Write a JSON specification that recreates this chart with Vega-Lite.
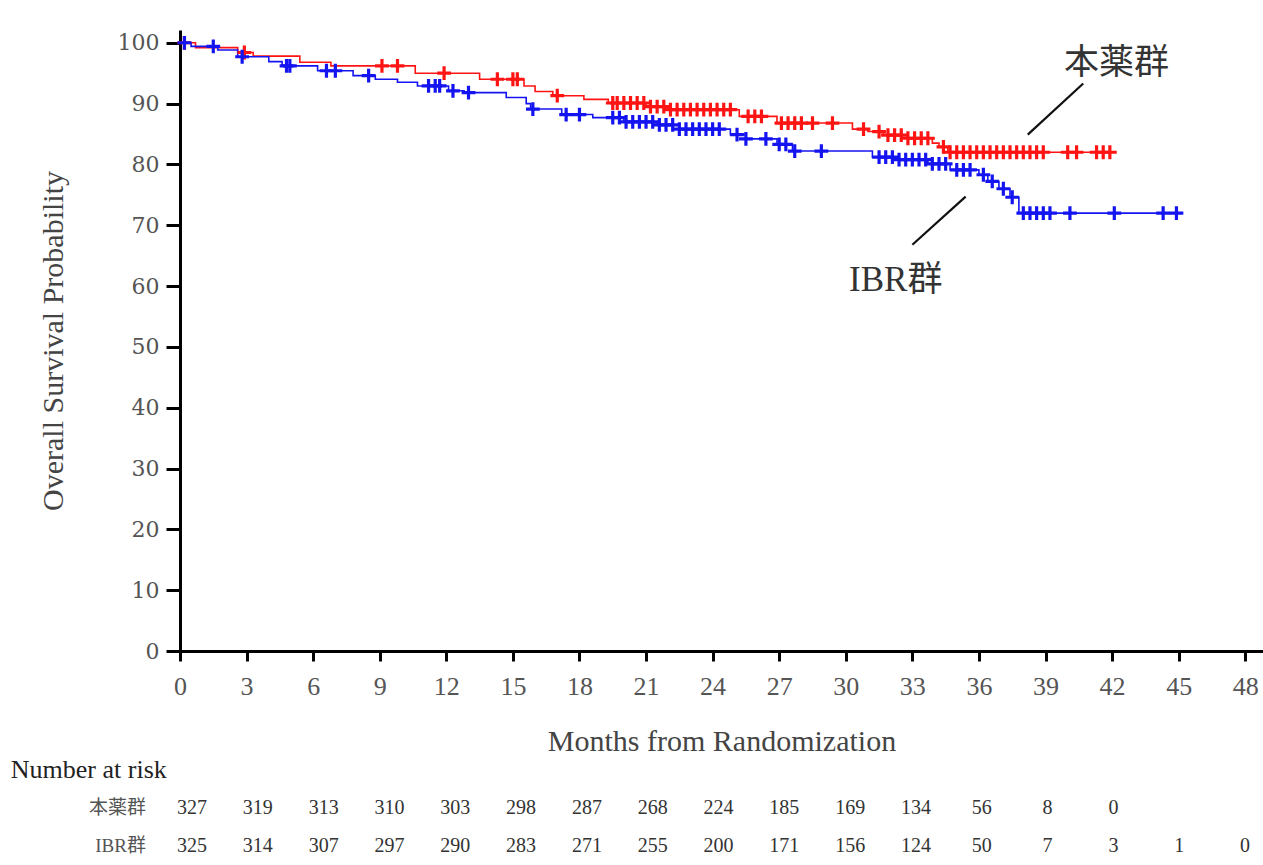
{
  "$schema": "https://vega.github.io/schema/vega-lite/v6.json",
  "width": 1083,
  "height": 621,
  "autosize": {"type": "none"},
  "padding": {"left": 180, "top": 30, "right": 0, "bottom": 214},
  "background": "white",
  "config": {
    "view": {"stroke": null},
    "font": "Liberation Serif",
    "axis": {"labelFont": "Liberation Serif", "titleFont": "Liberation Serif", "grid": false}
  },
  "datasets": {
    "km": [
      {"g": "本薬群", "t": 0, "s": 100}, {"g": "本薬群", "t": 0.7, "s": 99.2}, {"g": "本薬群", "t": 2.6, "s": 98.4},
      {"g": "本薬群", "t": 3.3, "s": 97.8}, {"g": "本薬群", "t": 5.4, "s": 96.8}, {"g": "本薬群", "t": 6.8, "s": 96.2},
      {"g": "本薬群", "t": 10.6, "s": 95.0}, {"g": "本薬群", "t": 13.5, "s": 94.0}, {"g": "本薬群", "t": 15.5, "s": 92.9},
      {"g": "本薬群", "t": 16.0, "s": 92.0}, {"g": "本薬群", "t": 16.8, "s": 91.3}, {"g": "本薬群", "t": 18.2, "s": 90.7},
      {"g": "本薬群", "t": 19.3, "s": 90.1}, {"g": "本薬群", "t": 21.0, "s": 89.5}, {"g": "本薬群", "t": 22.0, "s": 89.0},
      {"g": "本薬群", "t": 25.2, "s": 87.9}, {"g": "本薬群", "t": 26.9, "s": 86.8}, {"g": "本薬群", "t": 30.3, "s": 85.8},
      {"g": "本薬群", "t": 31.0, "s": 85.4}, {"g": "本薬群", "t": 31.7, "s": 84.8}, {"g": "本薬群", "t": 32.8, "s": 84.3},
      {"g": "本薬群", "t": 33.9, "s": 83.5}, {"g": "本薬群", "t": 34.2, "s": 82.9}, {"g": "本薬群", "t": 34.6, "s": 82.0},
      {"g": "本薬群", "t": 42.0, "s": 82.0},
      {"g": "IBR群", "t": 0, "s": 100}, {"g": "IBR群", "t": 0.5, "s": 99.4}, {"g": "IBR群", "t": 1.7, "s": 98.8},
      {"g": "IBR群", "t": 2.6, "s": 97.7}, {"g": "IBR群", "t": 4.0, "s": 96.9}, {"g": "IBR群", "t": 4.6, "s": 96.2},
      {"g": "IBR群", "t": 6.2, "s": 95.4}, {"g": "IBR群", "t": 7.8, "s": 94.6}, {"g": "IBR群", "t": 8.8, "s": 94.0},
      {"g": "IBR群", "t": 9.8, "s": 93.5}, {"g": "IBR群", "t": 10.7, "s": 92.9}, {"g": "IBR群", "t": 12.1, "s": 92.1},
      {"g": "IBR群", "t": 12.8, "s": 91.8}, {"g": "IBR群", "t": 14.7, "s": 91.0}, {"g": "IBR群", "t": 15.6, "s": 90.0},
      {"g": "IBR群", "t": 15.8, "s": 89.1}, {"g": "IBR群", "t": 17.2, "s": 88.2}, {"g": "IBR群", "t": 18.6, "s": 87.7},
      {"g": "IBR群", "t": 20.0, "s": 87.0}, {"g": "IBR群", "t": 21.5, "s": 86.5}, {"g": "IBR群", "t": 22.5, "s": 85.8},
      {"g": "IBR群", "t": 24.8, "s": 84.9}, {"g": "IBR群", "t": 25.5, "s": 84.2}, {"g": "IBR群", "t": 26.9, "s": 83.3},
      {"g": "IBR群", "t": 27.6, "s": 82.2}, {"g": "IBR群", "t": 31.2, "s": 81.2}, {"g": "IBR群", "t": 32.2, "s": 80.8},
      {"g": "IBR群", "t": 33.7, "s": 80.1}, {"g": "IBR群", "t": 34.7, "s": 79.1}, {"g": "IBR群", "t": 36.0, "s": 78.3},
      {"g": "IBR群", "t": 36.4, "s": 77.2}, {"g": "IBR群", "t": 36.9, "s": 76.0}, {"g": "IBR群", "t": 37.4, "s": 74.6},
      {"g": "IBR群", "t": 37.8, "s": 72.0}, {"g": "IBR群", "t": 45.1, "s": 72.0}
    ],
    "cens": [
      {"g": "本薬群", "t": 0.2, "s": 100}, {"g": "本薬群", "t": 2.9, "s": 98.4}, {"g": "本薬群", "t": 9.1, "s": 96.2},
      {"g": "本薬群", "t": 9.8, "s": 96.2}, {"g": "本薬群", "t": 11.9, "s": 95.0}, {"g": "本薬群", "t": 14.3, "s": 94.0},
      {"g": "本薬群", "t": 15.0, "s": 94.0}, {"g": "本薬群", "t": 15.2, "s": 94.0}, {"g": "本薬群", "t": 17.0, "s": 91.3},
      {"g": "本薬群", "t": 19.5, "s": 90.1}, {"g": "本薬群", "t": 19.7, "s": 90.1}, {"g": "本薬群", "t": 20.0, "s": 90.1},
      {"g": "本薬群", "t": 20.3, "s": 90.1}, {"g": "本薬群", "t": 20.6, "s": 90.1}, {"g": "本薬群", "t": 20.9, "s": 90.1},
      {"g": "本薬群", "t": 21.2, "s": 89.5}, {"g": "本薬群", "t": 21.5, "s": 89.5}, {"g": "本薬群", "t": 21.8, "s": 89.5},
      {"g": "本薬群", "t": 22.1, "s": 89.0}, {"g": "本薬群", "t": 22.4, "s": 89.0}, {"g": "本薬群", "t": 22.7, "s": 89.0},
      {"g": "本薬群", "t": 23.0, "s": 89.0}, {"g": "本薬群", "t": 23.3, "s": 89.0}, {"g": "本薬群", "t": 23.6, "s": 89.0},
      {"g": "本薬群", "t": 23.9, "s": 89.0}, {"g": "本薬群", "t": 24.2, "s": 89.0}, {"g": "本薬群", "t": 24.5, "s": 89.0},
      {"g": "本薬群", "t": 24.8, "s": 89.0}, {"g": "本薬群", "t": 25.6, "s": 87.9}, {"g": "本薬群", "t": 25.9, "s": 87.9},
      {"g": "本薬群", "t": 26.2, "s": 87.9}, {"g": "本薬群", "t": 27.1, "s": 86.8}, {"g": "本薬群", "t": 27.4, "s": 86.8},
      {"g": "本薬群", "t": 27.7, "s": 86.8}, {"g": "本薬群", "t": 28.0, "s": 86.8}, {"g": "本薬群", "t": 28.5, "s": 86.8},
      {"g": "本薬群", "t": 29.4, "s": 86.8}, {"g": "本薬群", "t": 30.8, "s": 85.8}, {"g": "本薬群", "t": 31.5, "s": 85.4},
      {"g": "本薬群", "t": 31.9, "s": 84.8}, {"g": "本薬群", "t": 32.2, "s": 84.8}, {"g": "本薬群", "t": 32.5, "s": 84.8},
      {"g": "本薬群", "t": 32.8, "s": 84.3}, {"g": "本薬群", "t": 33.1, "s": 84.3}, {"g": "本薬群", "t": 33.4, "s": 84.3},
      {"g": "本薬群", "t": 33.7, "s": 84.3}, {"g": "本薬群", "t": 34.4, "s": 82.9}, {"g": "本薬群", "t": 34.7, "s": 82.0},
      {"g": "本薬群", "t": 35.0, "s": 82.0}, {"g": "本薬群", "t": 35.3, "s": 82.0}, {"g": "本薬群", "t": 35.6, "s": 82.0},
      {"g": "本薬群", "t": 35.9, "s": 82.0}, {"g": "本薬群", "t": 36.2, "s": 82.0}, {"g": "本薬群", "t": 36.5, "s": 82.0},
      {"g": "本薬群", "t": 36.8, "s": 82.0}, {"g": "本薬群", "t": 37.1, "s": 82.0}, {"g": "本薬群", "t": 37.4, "s": 82.0},
      {"g": "本薬群", "t": 37.7, "s": 82.0}, {"g": "本薬群", "t": 38.0, "s": 82.0}, {"g": "本薬群", "t": 38.3, "s": 82.0},
      {"g": "本薬群", "t": 38.6, "s": 82.0}, {"g": "本薬群", "t": 38.9, "s": 82.0}, {"g": "本薬群", "t": 40.0, "s": 82.0},
      {"g": "本薬群", "t": 40.4, "s": 82.0}, {"g": "本薬群", "t": 41.3, "s": 82.0}, {"g": "本薬群", "t": 41.6, "s": 82.0},
      {"g": "本薬群", "t": 41.9, "s": 82.0},
      {"g": "IBR群", "t": 0.2, "s": 100}, {"g": "IBR群", "t": 1.5, "s": 99.4}, {"g": "IBR群", "t": 2.8, "s": 97.7},
      {"g": "IBR群", "t": 4.8, "s": 96.2}, {"g": "IBR群", "t": 4.95, "s": 96.2}, {"g": "IBR群", "t": 6.6, "s": 95.4},
      {"g": "IBR群", "t": 7.0, "s": 95.4}, {"g": "IBR群", "t": 8.5, "s": 94.6}, {"g": "IBR群", "t": 11.2, "s": 92.9},
      {"g": "IBR群", "t": 11.5, "s": 92.9}, {"g": "IBR群", "t": 11.7, "s": 92.9}, {"g": "IBR群", "t": 12.3, "s": 92.1},
      {"g": "IBR群", "t": 13.0, "s": 91.8}, {"g": "IBR群", "t": 15.9, "s": 89.1}, {"g": "IBR群", "t": 17.4, "s": 88.2},
      {"g": "IBR群", "t": 18.0, "s": 88.2}, {"g": "IBR群", "t": 19.5, "s": 87.7}, {"g": "IBR群", "t": 19.8, "s": 87.7},
      {"g": "IBR群", "t": 20.1, "s": 87.0}, {"g": "IBR群", "t": 20.4, "s": 87.0}, {"g": "IBR群", "t": 20.7, "s": 87.0},
      {"g": "IBR群", "t": 21.0, "s": 87.0}, {"g": "IBR群", "t": 21.3, "s": 87.0}, {"g": "IBR群", "t": 21.6, "s": 86.5},
      {"g": "IBR群", "t": 21.9, "s": 86.5}, {"g": "IBR群", "t": 22.2, "s": 86.5}, {"g": "IBR群", "t": 22.5, "s": 85.8},
      {"g": "IBR群", "t": 22.8, "s": 85.8}, {"g": "IBR群", "t": 23.1, "s": 85.8}, {"g": "IBR群", "t": 23.4, "s": 85.8},
      {"g": "IBR群", "t": 23.7, "s": 85.8}, {"g": "IBR群", "t": 24.0, "s": 85.8}, {"g": "IBR群", "t": 24.3, "s": 85.8},
      {"g": "IBR群", "t": 25.1, "s": 84.9}, {"g": "IBR群", "t": 25.5, "s": 84.2}, {"g": "IBR群", "t": 26.4, "s": 84.2},
      {"g": "IBR群", "t": 27.0, "s": 83.3}, {"g": "IBR群", "t": 27.3, "s": 83.3}, {"g": "IBR群", "t": 27.7, "s": 82.2},
      {"g": "IBR群", "t": 28.9, "s": 82.2}, {"g": "IBR群", "t": 31.5, "s": 81.2}, {"g": "IBR群", "t": 31.8, "s": 81.2},
      {"g": "IBR群", "t": 32.1, "s": 81.2}, {"g": "IBR群", "t": 32.4, "s": 80.8}, {"g": "IBR群", "t": 32.7, "s": 80.8},
      {"g": "IBR群", "t": 33.0, "s": 80.8}, {"g": "IBR群", "t": 33.3, "s": 80.8}, {"g": "IBR群", "t": 33.6, "s": 80.8},
      {"g": "IBR群", "t": 33.9, "s": 80.1}, {"g": "IBR群", "t": 34.2, "s": 80.1}, {"g": "IBR群", "t": 34.5, "s": 80.1},
      {"g": "IBR群", "t": 35.0, "s": 79.1}, {"g": "IBR群", "t": 35.3, "s": 79.1}, {"g": "IBR群", "t": 35.6, "s": 79.1},
      {"g": "IBR群", "t": 36.2, "s": 78.3}, {"g": "IBR群", "t": 36.6, "s": 77.2}, {"g": "IBR群", "t": 37.1, "s": 76.0},
      {"g": "IBR群", "t": 37.5, "s": 74.6}, {"g": "IBR群", "t": 38.0, "s": 72.0}, {"g": "IBR群", "t": 38.3, "s": 72.0},
      {"g": "IBR群", "t": 38.6, "s": 72.0}, {"g": "IBR群", "t": 38.9, "s": 72.0}, {"g": "IBR群", "t": 39.2, "s": 72.0},
      {"g": "IBR群", "t": 40.1, "s": 72.0}, {"g": "IBR群", "t": 42.1, "s": 72.0}, {"g": "IBR群", "t": 44.3, "s": 72.0},
      {"g": "IBR群", "t": 44.9, "s": 72.0}
    ],
    "notes": [
      {"label": "本薬群", "t": 42.2, "s": 96.7, "t1": 40.7, "s1": 93.3, "t2": 38.2, "s2": 84.9},
      {"label": "IBR群", "t": 32.25, "s": 61.0, "t1": 35.4, "s1": 74.7, "t2": 33.0, "s2": 66.8}
    ],
    "risk": [
      {"row": "本薬群", "t": 0, "n": "327"}, {"row": "本薬群", "t": 3, "n": "319"}, {"row": "本薬群", "t": 6, "n": "313"},
      {"row": "本薬群", "t": 9, "n": "310"}, {"row": "本薬群", "t": 12, "n": "303"}, {"row": "本薬群", "t": 15, "n": "298"},
      {"row": "本薬群", "t": 18, "n": "287"}, {"row": "本薬群", "t": 21, "n": "268"}, {"row": "本薬群", "t": 24, "n": "224"},
      {"row": "本薬群", "t": 27, "n": "185"}, {"row": "本薬群", "t": 30, "n": "169"}, {"row": "本薬群", "t": 33, "n": "134"},
      {"row": "本薬群", "t": 36, "n": "56"}, {"row": "本薬群", "t": 39, "n": "8"}, {"row": "本薬群", "t": 42, "n": "0"},
      {"row": "IBR群", "t": 0, "n": "325"}, {"row": "IBR群", "t": 3, "n": "314"}, {"row": "IBR群", "t": 6, "n": "307"},
      {"row": "IBR群", "t": 9, "n": "297"}, {"row": "IBR群", "t": 12, "n": "290"}, {"row": "IBR群", "t": 15, "n": "283"},
      {"row": "IBR群", "t": 18, "n": "271"}, {"row": "IBR群", "t": 21, "n": "255"}, {"row": "IBR群", "t": 24, "n": "200"},
      {"row": "IBR群", "t": 27, "n": "171"}, {"row": "IBR群", "t": 30, "n": "156"}, {"row": "IBR群", "t": 33, "n": "124"},
      {"row": "IBR群", "t": 36, "n": "50"}, {"row": "IBR群", "t": 39, "n": "7"}, {"row": "IBR群", "t": 42, "n": "3"},
      {"row": "IBR群", "t": 45, "n": "1"}, {"row": "IBR群", "t": 48, "n": "0"}
    ],
    "rowlabels": [
      {"row": "本薬群", "t": -2.1, "label": "本薬群"},
      {"row": "IBR群", "t": -2.1, "label": "IBR群"}
    ],
    "header": [
      {"row": "Number at risk", "t": -8.26, "label": "Number at risk"}
    ]
  },
  "layer": [
    {
      "layer": [
        {
          "data": {"name": "km"},
          "mark": {"type": "line", "interpolate": "step-after", "strokeWidth": 1.6},
          "encoding": {
            "x": {"field": "t", "type": "quantitative",
              "scale": {"domain": [0, 48.8], "nice": false, "zero": false},
              "axis": {"values": [0, 3, 6, 9, 12, 15, 18, 21, 24, 27, 30, 33, 36, 39, 42, 45, 48],
                "title": "Months from Randomization", "titleFontSize": 30, "titleFontWeight": "normal", "titleColor": "#444444",
                "titlePadding": 27, "labelFontSize": 26, "labelColor": "#555555", "labelPadding": 12,
                "domainColor": "#000000", "domainWidth": 3, "tickColor": "#000000", "tickWidth": 3, "tickSize": 10,
                "labelFlush": false}},
            "y": {"field": "s", "type": "quantitative",
              "scale": {"domain": [0, 102.1], "nice": false, "zero": false},
              "axis": {"values": [0, 10, 20, 30, 40, 50, 60, 70, 80, 90, 100],
                "title": "Overall Survival Probability", "titleFontSize": 30, "titleFontWeight": "normal", "titleColor": "#444444",
                "titlePadding": 49, "labelFont": "DejaVu Serif", "labelFontSize": 22, "labelColor": "#555555", "labelPadding": 7,
                "domainColor": "#000000", "domainWidth": 3, "tickColor": "#000000", "tickWidth": 3, "tickSize": 14}},
            "color": {"field": "g", "type": "nominal",
              "scale": {"domain": ["本薬群", "IBR群"], "range": ["#ff1414", "#1414f0"]}, "legend": null},
            "detail": {"field": "g"}
          }
        },
        {
          "data": {"name": "cens"},
          "mark": {"type": "point", "shape": "M-1,0L1,0M0,-1L0,1", "filled": false, "strokeWidth": 3.2, "size": 190, "opacity": 1},
          "encoding": {
            "x": {"field": "t", "type": "quantitative"},
            "y": {"field": "s", "type": "quantitative"},
            "color": {"field": "g", "type": "nominal", "legend": null}
          }
        },
        {
          "data": {"name": "notes"},
          "mark": {"type": "rule", "color": "#111111", "strokeWidth": 2.2},
          "encoding": {
            "x": {"field": "t1", "type": "quantitative"},
            "y": {"field": "s1", "type": "quantitative"},
            "x2": {"field": "t2"},
            "y2": {"field": "s2"}
          }
        },
        {
          "mark": {"type": "rule", "color": "#888888", "strokeWidth": 2.5},
          "encoding": {
            "y": {"datum": 102.1, "type": "quantitative"}
          }
        },
        {
          "data": {"name": "notes"},
          "mark": {"type": "text", "font": "Liberation Serif, Noto Sans CJK JP", "fontSize": 35, "color": "#333333", "align": "center", "baseline": "middle"},
          "encoding": {
            "x": {"field": "t", "type": "quantitative"},
            "y": {"field": "s", "type": "quantitative"},
            "text": {"field": "label"}
          }
        }
      ]
    },
    {
      "layer": [
        {
          "data": {"name": "risk"},
          "mark": {"type": "text", "fontSize": 20, "color": "#333333", "align": "center", "baseline": "middle"},
          "encoding": {
            "x": {"field": "t", "type": "quantitative", "scale": {"domain": [0, 48], "range": [12, 1065], "nice": false, "zero": false}, "axis": null},
            "y": {"field": "row", "type": "nominal", "scale": {"type": "point", "domain": ["Number at risk", "本薬群", "IBR群"], "range": [740, 816], "padding": 0}, "axis": null},
            "text": {"field": "n"}
          }
        },
        {
          "data": {"name": "rowlabels"},
          "mark": {"type": "text", "font": "Liberation Serif, Noto Sans CJK JP", "fontSize": 19, "color": "#555555", "align": "right", "baseline": "middle"},
          "encoding": {
            "x": {"field": "t", "type": "quantitative"},
            "y": {"field": "row", "type": "nominal"},
            "text": {"field": "label"}
          }
        },
        {
          "data": {"name": "header"},
          "mark": {"type": "text", "fontSize": 26, "color": "#222222", "align": "left", "baseline": "middle"},
          "encoding": {
            "x": {"field": "t", "type": "quantitative"},
            "y": {"field": "row", "type": "nominal"},
            "text": {"field": "label"}
          }
        }
      ]
    }
  ],
  "resolve": {"scale": {"x": "independent", "y": "independent"}, "axis": {"x": "independent", "y": "independent"}}
}
